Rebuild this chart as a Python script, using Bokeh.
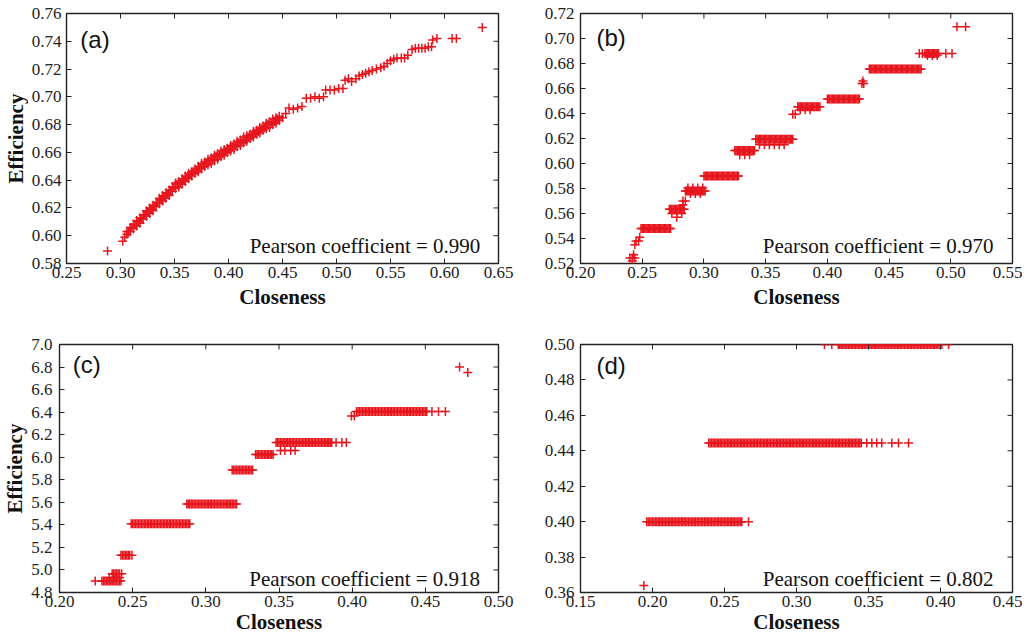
import math
from bokeh.plotting import figure
from bokeh.models import Range1d, FixedTicker, Label, PrintfTickFormatter
from bokeh.layouts import column, row
from bokeh.embed import file_html
from bokeh.resources import INLINE

# ---------------- data ----------------
# panel (a): main scatter
a_x = [
    0.288, 0.302, 0.304, 0.306, 0.306, 0.309, 0.309, 0.312, 0.312, 0.315,
    0.315, 0.318, 0.318, 0.321, 0.321, 0.324, 0.324, 0.327, 0.327, 0.330,
    0.330, 0.333, 0.333, 0.336, 0.336, 0.339, 0.339, 0.342, 0.342, 0.345,
    0.345, 0.348, 0.348, 0.351, 0.351, 0.354, 0.354, 0.357, 0.357, 0.360,
    0.360, 0.363, 0.363, 0.366, 0.366, 0.369, 0.369, 0.372, 0.372, 0.375,
    0.375, 0.378, 0.378, 0.381, 0.381, 0.384, 0.384, 0.387, 0.387, 0.390,
    0.390, 0.393, 0.393, 0.396, 0.396, 0.399, 0.399, 0.402, 0.402, 0.405,
    0.405, 0.408, 0.408, 0.411, 0.411, 0.414, 0.414, 0.417, 0.417, 0.420,
    0.420, 0.423, 0.423, 0.426, 0.426, 0.429, 0.429, 0.432, 0.432, 0.435,
    0.435, 0.438, 0.438, 0.441, 0.441, 0.444, 0.444, 0.447, 0.447, 0.450,
    0.453, 0.456, 0.460, 0.464, 0.468, 0.472, 0.476, 0.480, 0.484, 0.488,
    0.490, 0.494, 0.498, 0.502, 0.506, 0.508, 0.511, 0.514, 0.518, 0.521,
    0.524, 0.527, 0.530, 0.533, 0.537, 0.541, 0.544, 0.547, 0.550, 0.553,
    0.556, 0.560, 0.563, 0.566, 0.570, 0.573, 0.576, 0.579, 0.582, 0.585,
    0.588, 0.589, 0.593, 0.607, 0.611, 0.635,
]
a_y = [
    0.589, 0.596, 0.599, 0.601, 0.603, 0.603, 0.606, 0.605, 0.608, 0.607,
    0.611, 0.609, 0.613, 0.612, 0.615, 0.614, 0.618, 0.616, 0.620, 0.618,
    0.622, 0.621, 0.624, 0.623, 0.627, 0.625, 0.629, 0.627, 0.631, 0.629,
    0.633, 0.632, 0.635, 0.634, 0.638, 0.635, 0.639, 0.637, 0.641, 0.639,
    0.643, 0.641, 0.645, 0.643, 0.646, 0.645, 0.648, 0.646, 0.650, 0.648,
    0.652, 0.650, 0.653, 0.651, 0.655, 0.652, 0.656, 0.654, 0.658, 0.655,
    0.659, 0.657, 0.661, 0.658, 0.662, 0.660, 0.663, 0.661, 0.665, 0.662,
    0.666, 0.664, 0.668, 0.665, 0.669, 0.667, 0.671, 0.668, 0.672, 0.670,
    0.673, 0.671, 0.675, 0.673, 0.676, 0.674, 0.678, 0.676, 0.679, 0.677,
    0.681, 0.678, 0.682, 0.680, 0.684, 0.681, 0.685, 0.683, 0.686, 0.685,
    0.688, 0.692, 0.691, 0.692, 0.693, 0.699, 0.699, 0.700, 0.699, 0.700,
    0.705, 0.705, 0.705, 0.706, 0.706, 0.712, 0.713, 0.711, 0.713, 0.715,
    0.716, 0.717, 0.718, 0.719, 0.720, 0.721, 0.722, 0.724, 0.726, 0.727,
    0.728, 0.728, 0.728, 0.730, 0.734, 0.735, 0.735, 0.735, 0.735, 0.736,
    0.736, 0.741, 0.742, 0.742, 0.742, 0.750,
]
# panel (a): points in the middle of the dense part of the band
a_mid_x = [
    0.3075, 0.3105, 0.3135, 0.3165, 0.3195, 0.3225, 0.3255, 0.3285, 0.3315, 0.3345,
    0.3375, 0.3405, 0.3435, 0.3465, 0.3495, 0.3525, 0.3555, 0.3585, 0.3615, 0.3645,
    0.3675, 0.3705, 0.3735, 0.3765, 0.3795, 0.3825, 0.3855, 0.3885, 0.3915, 0.3945,
    0.3975, 0.4005, 0.4035, 0.4065, 0.4095, 0.4125, 0.4155, 0.4185, 0.4215, 0.4245,
    0.4275, 0.4305, 0.4335, 0.4365, 0.4395, 0.4425, 0.4455,
]
a_mid_y = [
    0.603, 0.606, 0.608, 0.610, 0.612, 0.615, 0.617, 0.619, 0.621, 0.624,
    0.626, 0.628, 0.630, 0.632, 0.635, 0.637, 0.638, 0.640, 0.642, 0.644,
    0.646, 0.647, 0.649, 0.651, 0.652, 0.654, 0.655, 0.657, 0.658, 0.659,
    0.661, 0.662, 0.664, 0.665, 0.667, 0.668, 0.669, 0.671, 0.672, 0.674,
    0.675, 0.677, 0.678, 0.680, 0.681, 0.682, 0.684,
]

# panel (b): efficiency levels and the closeness values found on each level
b_levels = [0.5245, 0.522, 0.527, 0.535, 0.538, 0.541, 0.548, 0.5635, 0.560,
            0.557, 0.567, 0.570, 0.5805, 0.578, 0.576, 0.590, 0.6105, 0.607,
            0.6195, 0.615, 0.6395, 0.6455, 0.643, 0.6517, 0.664, 0.666,
            0.6756, 0.688, 0.6865, 0.7094]
b_xs = [
    [0.240, 0.242, 0.244],
    [0.242],
    [0.243],
    [0.244],
    [0.245, 0.247],
    [0.248],
    [0.249, 0.250, 0.251, 0.252, 0.253, 0.254, 0.255, 0.256, 0.257, 0.258, 0.259,
     0.260, 0.261, 0.262, 0.263, 0.264, 0.265, 0.266, 0.267, 0.268, 0.269, 0.270,
     0.271, 0.272, 0.273],
    [0.272, 0.273, 0.274, 0.275, 0.276, 0.277, 0.278, 0.279, 0.280, 0.281, 0.282,
     0.283, 0.284],
    [0.274, 0.278, 0.282],
    [0.278],
    [0.283],
    [0.283, 0.285],
    [0.287, 0.291, 0.295, 0.299],
    [0.285, 0.286, 0.287, 0.288, 0.289, 0.290, 0.291, 0.292, 0.293, 0.294, 0.295,
     0.296, 0.297, 0.298, 0.299, 0.300, 0.301],
    [0.289, 0.293, 0.297],
    [0.300, 0.301, 0.302, 0.303, 0.304, 0.305, 0.306, 0.307, 0.308, 0.309, 0.310,
     0.311, 0.312, 0.313, 0.314, 0.315, 0.316, 0.317, 0.318, 0.319, 0.320, 0.321,
     0.322, 0.323, 0.324, 0.325, 0.326, 0.327, 0.328],
    [0.325, 0.326, 0.327, 0.328, 0.329, 0.330, 0.331, 0.332, 0.333, 0.334, 0.335,
     0.336, 0.337, 0.338, 0.339, 0.340, 0.341],
    [0.329, 0.333, 0.337],
    [0.342, 0.343, 0.344, 0.345, 0.346, 0.347, 0.348, 0.349, 0.350, 0.351, 0.352,
     0.353, 0.354, 0.355, 0.356, 0.357, 0.358, 0.359, 0.360, 0.361, 0.362, 0.363,
     0.364, 0.365, 0.366, 0.367, 0.368, 0.369, 0.370, 0.371, 0.372],
    [0.345, 0.349, 0.353, 0.357, 0.361, 0.365],
    [0.372, 0.374],
    [0.376, 0.377, 0.378, 0.379, 0.380, 0.381, 0.382, 0.383, 0.384, 0.385, 0.386,
     0.387, 0.388, 0.389, 0.390, 0.391, 0.392, 0.393, 0.394],
    [0.378, 0.382, 0.386],
    [0.400, 0.401, 0.402, 0.403, 0.404, 0.405, 0.406, 0.407, 0.408, 0.409, 0.410,
     0.411, 0.412, 0.413, 0.414, 0.415, 0.416, 0.417, 0.418, 0.419, 0.420, 0.421,
     0.422, 0.423, 0.424, 0.425, 0.426],
    [0.428, 0.4295],
    [0.4288],
    [0.434, 0.435, 0.436, 0.437, 0.438, 0.439, 0.440, 0.441, 0.442, 0.443, 0.444,
     0.445, 0.446, 0.447, 0.448, 0.449, 0.450, 0.451, 0.452, 0.453, 0.454, 0.455,
     0.456, 0.457, 0.458, 0.459, 0.460, 0.461, 0.462, 0.463, 0.464, 0.465, 0.466,
     0.467, 0.468, 0.469, 0.470, 0.471, 0.472, 0.473, 0.474, 0.475, 0.476],
    [0.4745, 0.477, 0.479, 0.480, 0.481, 0.482, 0.483, 0.484, 0.485, 0.486, 0.487,
     0.488, 0.489, 0.490, 0.496, 0.501],
    [0.481, 0.485, 0.489],
    [0.505, 0.512],
]

# panel (c)
c_levels = [4.902, 4.93, 4.966, 5.13, 5.41, 5.585, 5.886, 6.024, 6.059, 6.13,
            6.365, 6.406, 6.80, 6.752]
c_xs = [
    [0.2244, 0.229, 0.230, 0.231, 0.232, 0.233, 0.234, 0.235, 0.236, 0.237, 0.238,
     0.239, 0.240, 0.241, 0.242],
    [0.234, 0.238, 0.241],
    [0.236, 0.237, 0.238, 0.239, 0.240, 0.241, 0.2425],
    [0.242, 0.243, 0.244, 0.245, 0.246, 0.247, 0.248, 0.2495],
    [0.249, 0.250, 0.251, 0.252, 0.253, 0.254, 0.255, 0.256, 0.257, 0.258, 0.259,
     0.260, 0.261, 0.262, 0.263, 0.264, 0.265, 0.266, 0.267, 0.268, 0.269, 0.270,
     0.271, 0.272, 0.273, 0.274, 0.275, 0.276, 0.277, 0.278, 0.279, 0.280, 0.281,
     0.282, 0.283, 0.284, 0.285, 0.286, 0.287, 0.288, 0.289],
    [0.287, 0.288, 0.289, 0.290, 0.291, 0.292, 0.293, 0.294, 0.295, 0.296, 0.297,
     0.298, 0.299, 0.300, 0.301, 0.302, 0.303, 0.304, 0.305, 0.306, 0.307, 0.308,
     0.309, 0.310, 0.311, 0.312, 0.313, 0.314, 0.315, 0.316, 0.317, 0.318, 0.319,
     0.320, 0.321],
    [0.318, 0.319, 0.320, 0.321, 0.322, 0.323, 0.324, 0.325, 0.326, 0.327, 0.328,
     0.329, 0.330, 0.331, 0.332],
    [0.334, 0.335, 0.336, 0.337, 0.338, 0.339, 0.340, 0.341, 0.342, 0.343, 0.344,
     0.345, 0.346],
    [0.351, 0.354, 0.358, 0.361],
    [0.348, 0.349, 0.350, 0.351, 0.352, 0.353, 0.354, 0.355, 0.356, 0.357, 0.358,
     0.359, 0.360, 0.361, 0.362, 0.363, 0.364, 0.365, 0.366, 0.367, 0.368, 0.369,
     0.370, 0.371, 0.372, 0.373, 0.374, 0.375, 0.376, 0.377, 0.378, 0.379, 0.380,
     0.381, 0.382, 0.383, 0.384, 0.385, 0.386, 0.389, 0.393, 0.396],
    [0.3995, 0.4015],
    [0.403, 0.404, 0.405, 0.406, 0.407, 0.408, 0.409, 0.410, 0.411, 0.412, 0.413,
     0.414, 0.415, 0.416, 0.417, 0.418, 0.419, 0.420, 0.421, 0.422, 0.423, 0.424,
     0.425, 0.426, 0.427, 0.428, 0.429, 0.430, 0.431, 0.432, 0.433, 0.434, 0.435,
     0.436, 0.437, 0.438, 0.439, 0.440, 0.441, 0.442, 0.443, 0.444, 0.445, 0.446,
     0.447, 0.448, 0.449, 0.450, 0.451, 0.4545, 0.459, 0.4637],
    [0.4734],
    [0.479],
]

# panel (d)
d_levels = [0.364, 0.40, 0.4444, 0.50]
d_xs = [
    [0.194],
    [0.196, 0.197, 0.198, 0.199, 0.200, 0.201, 0.202, 0.203, 0.204, 0.205, 0.206,
     0.207, 0.208, 0.209, 0.210, 0.211, 0.212, 0.213, 0.214, 0.215, 0.216, 0.217,
     0.218, 0.219, 0.220, 0.221, 0.222, 0.223, 0.224, 0.225, 0.226, 0.227, 0.228,
     0.229, 0.230, 0.231, 0.232, 0.233, 0.234, 0.235, 0.236, 0.237, 0.238, 0.239,
     0.240, 0.241, 0.242, 0.243, 0.244, 0.245, 0.246, 0.247, 0.248, 0.249, 0.250,
     0.251, 0.252, 0.253, 0.254, 0.255, 0.256, 0.257, 0.258, 0.259, 0.260, 0.261,
     0.262, 0.2667],
    [0.239, 0.240, 0.241, 0.242, 0.243, 0.244, 0.245, 0.246, 0.247, 0.248, 0.249,
     0.250, 0.251, 0.252, 0.253, 0.254, 0.255, 0.256, 0.257, 0.258, 0.259, 0.260,
     0.261, 0.262, 0.263, 0.264, 0.265, 0.266, 0.267, 0.268, 0.269, 0.270, 0.271,
     0.272, 0.273, 0.274, 0.275, 0.276, 0.277, 0.278, 0.279, 0.280, 0.281, 0.282,
     0.283, 0.284, 0.285, 0.286, 0.287, 0.288, 0.289, 0.290, 0.291, 0.292, 0.293,
     0.294, 0.295, 0.296, 0.297, 0.298, 0.299, 0.300, 0.301, 0.302, 0.303, 0.304,
     0.305, 0.306, 0.307, 0.308, 0.309, 0.310, 0.311, 0.312, 0.313, 0.314, 0.315,
     0.316, 0.317, 0.318, 0.319, 0.320, 0.321, 0.322, 0.323, 0.324, 0.325, 0.326,
     0.327, 0.328, 0.329, 0.330, 0.331, 0.332, 0.333, 0.334, 0.335, 0.336, 0.337,
     0.338, 0.339, 0.340, 0.341, 0.342, 0.343, 0.344, 0.345, 0.3488, 0.3523,
     0.3557, 0.3592, 0.3662, 0.3708, 0.3778],
    [0.3194, 0.3245, 0.329, 0.330, 0.331, 0.332, 0.333, 0.334, 0.335, 0.336, 0.337,
     0.338, 0.339, 0.340, 0.341, 0.342, 0.343, 0.344, 0.345, 0.346, 0.347, 0.348,
     0.349, 0.350, 0.351, 0.352, 0.353, 0.354, 0.355, 0.356, 0.357, 0.358, 0.359,
     0.360, 0.361, 0.362, 0.363, 0.364, 0.365, 0.366, 0.367, 0.368, 0.369, 0.370,
     0.371, 0.372, 0.373, 0.374, 0.375, 0.376, 0.377, 0.378, 0.379, 0.380, 0.381,
     0.382, 0.383, 0.384, 0.385, 0.386, 0.387, 0.388, 0.389, 0.390, 0.391, 0.392,
     0.393, 0.394, 0.395, 0.396, 0.397, 0.398, 0.399, 0.401, 0.4056],
]

# axes
a_xticks = [0.25, 0.30, 0.35, 0.40, 0.45, 0.50, 0.55, 0.60, 0.65]
a_yticks = [0.58, 0.60, 0.62, 0.64, 0.66, 0.68, 0.70, 0.72, 0.74, 0.76]
b_xticks = [0.20, 0.25, 0.30, 0.35, 0.40, 0.45, 0.50, 0.55]
b_yticks = [0.52, 0.54, 0.56, 0.58, 0.60, 0.62, 0.64, 0.66, 0.68, 0.70, 0.72]
c_xticks = [0.20, 0.25, 0.30, 0.35, 0.40, 0.45, 0.50]
c_yticks = [4.8, 5.0, 5.2, 5.4, 5.6, 5.8, 6.0, 6.2, 6.4, 6.6, 6.8, 7.0]
d_xticks = [0.15, 0.20, 0.25, 0.30, 0.35, 0.40, 0.45]
d_yticks = [0.36, 0.38, 0.40, 0.42, 0.44, 0.46, 0.48, 0.50]

x_title = "Closeness"
y_title = "Efficiency"
tags = ["(a)", "(b)", "(c)", "(d)"]
pearson = ["0.990", "0.970", "0.918", "0.802"]

# ---------------- styling ----------------
RED = "#e6161e"
SERIF = "Liberation Serif"
SANS = "Liberation Sans"
INK = "#222222"


def flatten(levels, xs):
    fx, fy = [], []
    for lv, row_x in zip(levels, xs):
        for v in row_x:
            fx.append(v)
            fy.append(lv)
    return fx, fy


def panel(xs, ys, xticks, yticks, fmt, tag, coef, fw, fh, ml, mr, mt, mb,
          ylabel=None, ystand=5, xlab_stand=0, tag_pos=(0.03, 0.9),
          coef_pos=(0.957, 0.07)):
    x0, x1 = xticks[0], xticks[-1]
    y0, y1 = yticks[0], yticks[-1]
    p = figure(frame_width=fw, frame_height=fh,
               x_range=Range1d(x0, x1), y_range=Range1d(y0, y1),
               output_backend="svg", toolbar_location=None,
               min_border_left=ml, min_border_right=mr,
               min_border_top=mt, min_border_bottom=mb,
               background_fill_color="white", border_fill_color="white")
    p.grid.visible = False
    p.outline_line_color = INK
    p.outline_line_width = 1.4

    p.scatter(xs, ys, marker="cross", size=9, line_color=RED, line_width=1.5)

    xa = p.xaxis[0]
    ya = p.yaxis[0]
    xa.ticker = FixedTicker(ticks=xticks)
    ya.ticker = FixedTicker(ticks=yticks)
    xa.formatter = PrintfTickFormatter(format=fmt[0])
    ya.formatter = PrintfTickFormatter(format=fmt[1])
    for ax in (xa, ya):
        ax.major_tick_in = 5
        ax.major_tick_out = 0
        ax.minor_tick_line_color = None
        ax.axis_line_color = None
        ax.major_tick_line_color = INK
        ax.major_label_text_font = SERIF
        ax.major_label_text_font_size = "17px"
        ax.major_label_text_color = INK
        ax.axis_label_text_font = SERIF
        ax.axis_label_text_font_size = "21px"
        ax.axis_label_text_font_style = "bold"
        ax.axis_label_text_color = "#111111"
    xa.major_label_standoff = 3
    xa.axis_label_standoff = xlab_stand
    xa.axis_label = x_title
    ya.major_label_standoff = ystand
    ya.axis_label_standoff = 1
    if ylabel:
        ya.axis_label = ylabel

    # mirrored inward ticks on the top and right edges of the frame
    p.ray(x=xticks, y=[y1] * len(xticks), length=5, length_units="screen",
          angle=-math.pi / 2, line_color=INK, line_width=1)
    p.ray(x=[x1] * len(yticks), y=yticks, length=5, length_units="screen",
          angle=math.pi, line_color=INK, line_width=1)

    p.add_layout(Label(x=x0 + tag_pos[0] * (x1 - x0), y=y0 + tag_pos[1] * (y1 - y0),
                       text=tag, text_font=SANS, text_font_size="24px",
                       text_color="#111111", text_baseline="middle", text_align="left"))
    p.add_layout(Label(x=x0 + coef_pos[0] * (x1 - x0), y=y0 + coef_pos[1] * (y1 - y0),
                       text="Pearson coefficient = " + coef, text_font=SERIF,
                       text_font_size="21px", text_color="#111111",
                       text_baseline="alphabetic", text_align="right"))
    return p


ax_all = a_x + a_mid_x
ay_all = a_y + a_mid_y
bx, by = flatten(b_levels, b_xs)
cx, cy = flatten(c_levels, c_xs)
dx, dy = flatten(d_levels, d_xs)

pa = panel(ax_all, ay_all, a_xticks, a_yticks, ("%.2f", "%.2f"), tags[0], pearson[0],
           432, 250, 60, 20, 13, 50, ylabel=y_title, ystand=5, xlab_stand=4,
           tag_pos=(0.032, 0.896), coef_pos=(0.958, 0.072))
pb = panel(bx, by, b_xticks, b_yticks, ("%.2f", "%.2f"), tags[1], pearson[1],
           432, 250, 62, 10, 13, 50, ystand=6, xlab_stand=4,
           tag_pos=(0.037, 0.904), coef_pos=(0.956, 0.072))
pc = panel(cx, cy, c_xticks, c_yticks, ("%.2f", "%.1f"), tags[2], pearson[2],
           439, 248, 53, 20, 31, 46, ylabel=y_title, ystand=7, xlab_stand=0,
           tag_pos=(0.030, 0.919), coef_pos=(0.958, 0.056))
pd_ = panel(dx, dy, d_xticks, d_yticks, ("%.2f", "%.2f"), tags[3], pearson[3],
            432, 248, 62, 10, 31, 46, ystand=6, xlab_stand=0,
            tag_pos=(0.037, 0.915), coef_pos=(0.956, 0.056))

layout = column(row(pa, pb), row(pc, pd_))
open("out.html", "w").write(file_html(layout, INLINE))
